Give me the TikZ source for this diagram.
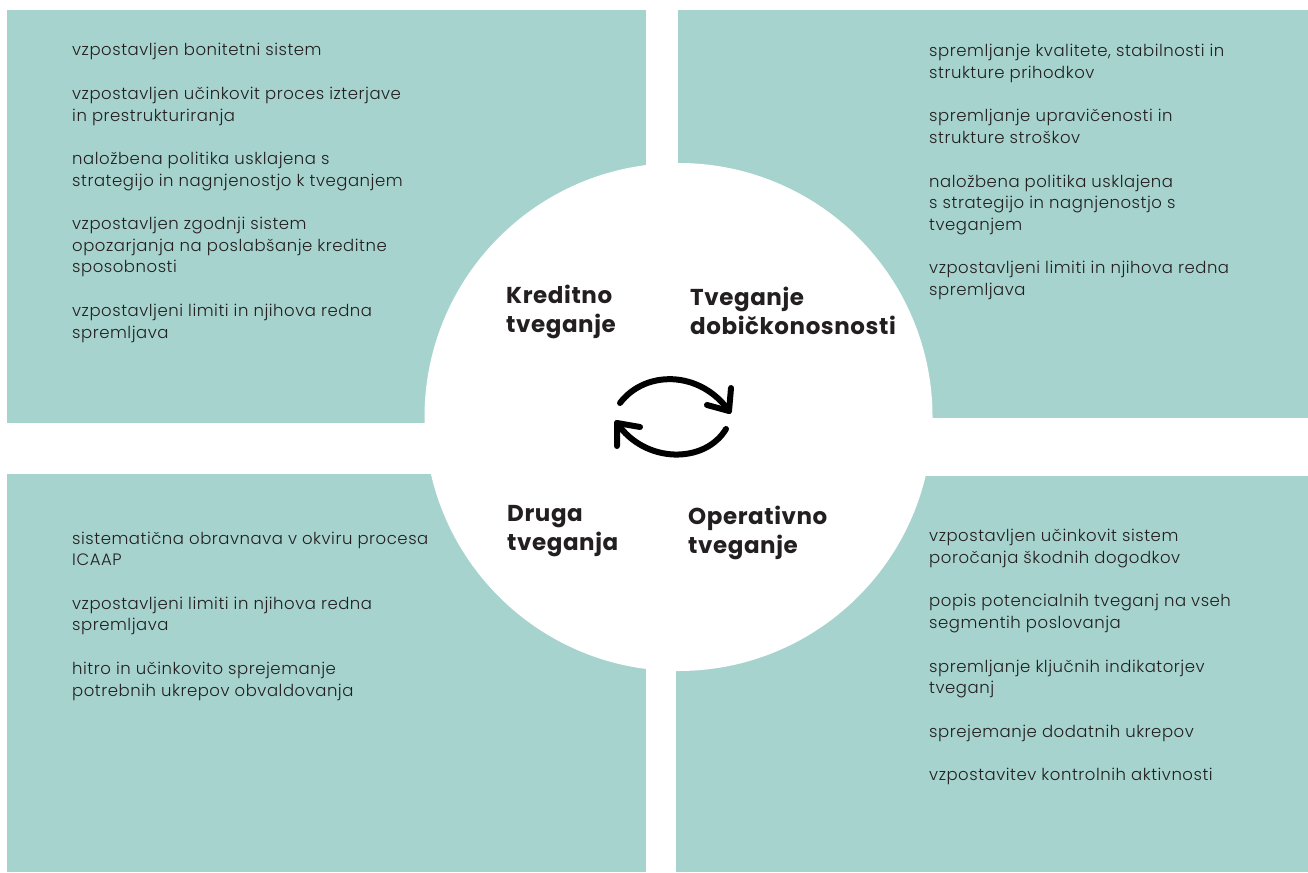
\documentclass[tikz,border=0pt]{standalone}
\usepackage{fontspec}
\setmainfont{Poppins}
\IfFontExistsTF{Poppins Light}{\newfontfamily\bodyfont{Poppins Light}[LetterSpace=3.2]}{\newfontfamily\bodyfont{Poppins}[LetterSpace=2]}
\newfontfamily\headfont{Poppins}[LetterSpace=2.5]
\definecolor{teal}{RGB}{166,211,206}
\definecolor{ink}{RGB}{35,31,32}
\tikzset{
  panel/.style={fill=teal, draw=none},
  bodytext/.style={anchor=base west, inner sep=0pt, align=left, text=ink,
    font=\bodyfont\fontsize{16.5}{21.7}\selectfont},
  headtext/.style={anchor=base west, inner sep=0pt, align=left, text=ink,
    font=\headfont\bfseries\fontsize{23}{28.5}\selectfont},
  cyc/.style={line width=6pt, line cap=round, line join=round, draw=black}
}
\begin{document}
\begin{tikzpicture}[x=1pt,y=-1pt]
\useasboundingbox (0,0) rectangle (1308,872);
% panels
\fill[panel] (7,10) rectangle (646,423);
\fill[panel] (678,10) rectangle (1308,418);
\fill[panel] (7,474) rectangle (646,872);
\fill[panel] (676,476) rectangle (1308,872);
% central circle
\fill[white] (678.5,417) circle (254pt);
% headings (anchored at the baseline of their last line)
\node[headtext] (kred) at (506,332) {Kreditno\\tveganje};
\node[headtext] (dobi) at (690,334) {Tveganje\\dobičkonosnosti};
\node[headtext] (drug) at (507,550) {Druga\\tveganja};
\node[headtext] (oper) at (688,553) {Operativno\\tveganje};
% lists (anchored at the baseline of their last line)
\node[bodytext] (tl) at (72,338) {vzpostavljen bonitetni sistem\\[21.7pt]
vzpostavljen učinkovit proces izterjave\\in prestrukturiranja\\[21.7pt]
naložbena politika usklajena s\\strategijo in nagnjenostjo k tveganjem\\[21.7pt]
vzpostavljen zgodnji sistem\\opozarjanja na poslabšanje kreditne\\sposobnosti\\[21.7pt]
vzpostavljeni limiti in njihova redna\\spremljava};
\node[bodytext] (tr) at (929,295.5) {spremljanje kvalitete, stabilnosti in\\strukture prihodkov\\[21.7pt]
spremljanje upravičenosti in\\strukture stroškov\\[21.7pt]
naložbena politika usklajena\\s strategijo in nagnjenostjo s\\tveganjem\\[21.7pt]
vzpostavljeni limiti in njihova redna\\spremljava};
\node[bodytext] (bl) at (72,696) {sistematična obravnava v okviru procesa\\ICAAP\\[21.7pt]
vzpostavljeni limiti in njihova redna\\spremljava\\[21.7pt]
hitro in učinkovito sprejemanje\\potrebnih ukrepov obvaldovanja};
\node[bodytext] (br) at (929,780.5) {vzpostavljen učinkovit sistem\\poročanja škodnih dogodkov\\[21.7pt]
popis potencialnih tveganj na vseh\\segmentih poslovanja\\[21.7pt]
spremljanje ključnih indikatorjev\\tveganj\\[21.7pt]
sprejemanje dodatnih ukrepov\\[21.7pt]
vzpostavitev kontrolnih aktivnosti};
% cycle icon
\draw[cyc] (620,403) .. controls (645,370) and (700,370) .. (729,411);
\draw[cyc] (731,388) -- (729,411) -- (707,405);
\draw[cyc] (726,429) .. controls (705,464) and (645,464) .. (617,423);
\draw[cyc] (617,446) -- (617,423) -- (640,427);
\end{tikzpicture}
\end{document}
